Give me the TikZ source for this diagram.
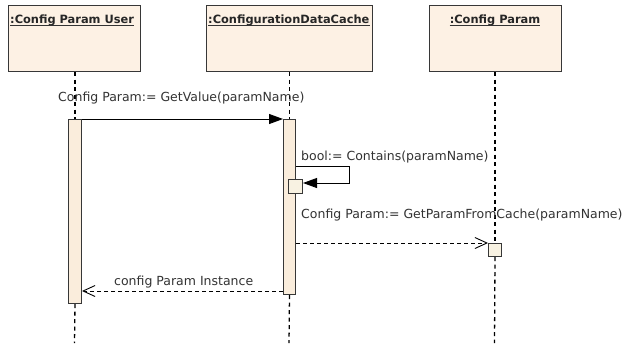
\documentclass[tikz,border=0pt]{standalone}
\usepackage{fontspec}
\setmainfont{DejaVu Sans}
\usetikzlibrary{arrows.meta}
\definecolor{boxfill}{RGB}{253,241,228}
\definecolor{actfill}{RGB}{250,237,220}
\definecolor{smallfill}{RGB}{248,242,226}
\definecolor{edgec}{RGB}{55,55,55}
\begin{document}
\begin{tikzpicture}[x=1pt,y=-1pt,
  head/.style={draw=edgec, line width=1.2pt, fill=boxfill, inner sep=0pt, minimum height=66pt, anchor=north west},
  ttl/.style={font=\bfseries\fontsize{11.4}{14}\selectfont, text=black!85, inner sep=0pt, anchor=base west},
  uline/.style={draw=black!80, line width=0.9pt},
  act/.style={draw=edgec, line width=1pt, fill=actfill, inner sep=0pt, anchor=north west},
  smallbox/.style={draw=edgec, line width=1pt, fill=smallfill, inner sep=0pt, anchor=north west},
  life/.style={draw=black, line width=1.3pt, dash pattern=on 4pt off 3.5pt},
  sync/.style={draw=black, line width=0.9pt, -{Triangle[length=14pt,width=10pt]}},
  async/.style={draw=black, line width=0.9pt, dash pattern=on 4pt off 3pt, -{Straight Barb[length=12pt,width=11pt,line width=0.9pt]}},
  lbl/.style={font=\fontsize{12.5}{15}\selectfont, text=black!80, inner sep=0pt, anchor=base west}
]
\useasboundingbox[fill=white] (0,0) rectangle (623,349);

% headers
\node[head, minimum width=132pt] (h1) at (8,5) {};
\node[head, minimum width=166pt] (h2) at (206,5) {};
\node[head, minimum width=132pt] (h3) at (429,5) {};
\node[ttl] (t1) at (10,23) {:Config Param User};
\node[ttl] (t2) at (208,23) {:ConfigurationDataCache};
\node[ttl, anchor=base] (t3) at (495,23) {:Config Param};
\draw[uline] ([yshift=-2pt]t1.base west) -- ([yshift=-2pt]t1.base east);
\draw[uline] ([yshift=-2pt]t2.base west) -- ([yshift=-2pt]t2.base east);
\draw[uline] ([yshift=-2pt]t3.base west) -- ([yshift=-2pt]t3.base east);

% activations and small boxes
\node[act, minimum width=13pt, minimum height=184pt] (a1) at (68,119) {};
\node[act, minimum width=12pt, minimum height=175pt] (a2) at (283,119) {};
\node[smallbox, minimum width=14pt, minimum height=14pt] (s1) at (288,179) {};
\node[smallbox, minimum width=13pt, minimum height=13pt] (s2) at (488,243) {};

% lifeline ends
\coordinate (e1) at (74.5,343);
\coordinate (e2) at (289,343);
\coordinate (e3) at (494.5,343);

% lifelines
\draw[life] (h1.south -| a1.north) -- (a1.north);
\draw[life] (a1.south) -- (e1);
\draw[life] (h2.south -| a2.north) -- (a2.north);
\draw[life] (a2.south) -- (e2);
\draw[life] (h3.south -| s2.north) -- (s2.north);
\draw[life] (s2.south) -- (e3);

% message 1
\draw[sync] (a1.north east) -- (a2.north west);
\node[lbl] (m1) at (58,101) {Config Param:= GetValue(paramName)};

% self message
\coordinate (c1) at (349,166);
\coordinate (c2) at (349,183);
\draw[sync] (a2.east |- c1) -- (c1) -- (c2) -- (s1.east |- c2);
\node[lbl] (m2) at (301,160) {bool:= Contains(paramName)};

% message 3
\draw[async] (a2.east |- s2.north) -- (s2.north west);
\node[lbl] (m3) at (301,218) {Config Param:= GetParamFromCache(paramName)};

% return
\coordinate (r) at (0,291);
\draw[async] (a2.west |- r) -- (a1.east |- r);
\node[lbl] (m4) at (114,285) {config Param Instance};
\end{tikzpicture}
\end{document}
